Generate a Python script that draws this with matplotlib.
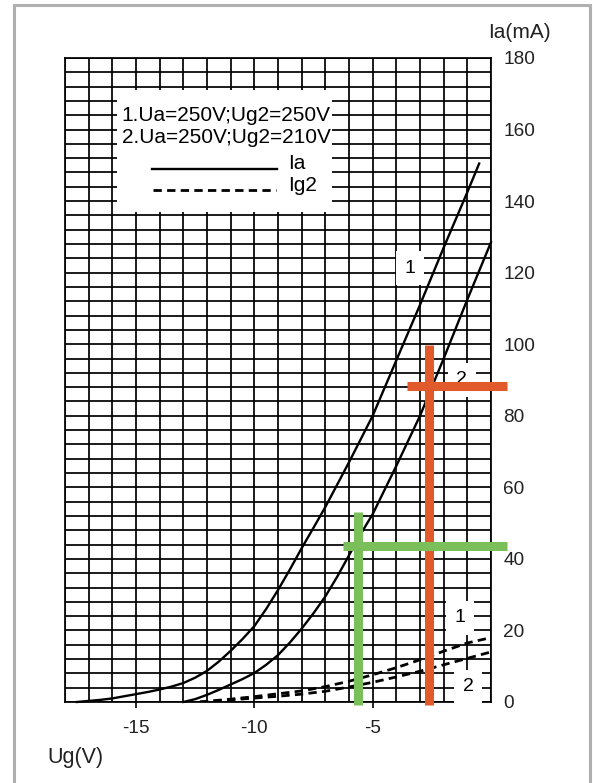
import matplotlib
matplotlib.use("Agg")
import matplotlib.pyplot as plt
from matplotlib.patches import Rectangle

plt.rcParams['font.family'] = ['Liberation Sans', 'DejaVu Sans']
plt.rcParams['axes.unicode_minus'] = False

# ---- data ----
ug_ia1 = [-17.5, -17, -16.5, -16, -15.5, -15, -14.5, -14, -13.5, -13, -12.5, -12, -11.5, -11,
          -10.5, -10, -9.5, -9, -8.5, -8, -7.5, -7, -6, -5, -4, -3, -2, -1, -0.5]
ia1 = [0, 0.3, 0.6, 1.0, 1.6, 2.2, 2.8, 3.5, 4.3, 5.3, 6.8, 8.7, 11.3, 14.3,
       17.6, 21.2, 26, 31.3, 37, 43, 48.7, 54.5, 67, 80, 95.5, 111, 127, 142.5, 150.5]

ug_ia2 = [-13, -12.5, -12, -11.5, -11, -10.5, -10, -9.5, -9, -8.5, -8, -7.5, -7, -6.5, -6,
          -5.5, -5, -4, -3, -2, -1, 0]
ia2 = [0, 0.8, 2.0, 3.4, 4.9, 6.4, 8.1, 10.4, 13.1, 16.6, 20.5, 24.8, 29.5, 35, 41,
       47, 52.5, 66, 80, 96, 112.5, 128.5]

ug_ig2 = [-12.3, -11, -10, -9, -8, -7, -6, -5, -4, -3, -2, -1, 0]
ig2_1 = [0, 0.8, 1.5, 2.3, 3.1, 4.3, 5.8, 7.6, 9.6, 11.8, 14.2, 16.5, 18]
ig2_2 = [0, 0.6, 1.1, 1.6, 2.2, 3.0, 4.2, 5.5, 7.0, 8.6, 10.4, 12.2, 14]

xticks = [-15, -10, -5]
xtick_labels = ["-15", "-10", "-5"]
yticks = [0, 20, 40, 60, 80, 100, 120, 140, 160, 180]
ytick_labels = [str(v) for v in yticks]

legend_lines = ["1.Ua=250V;Ug2=250V", "2.Ua=250V;Ug2=210V"]

# red marker
red_x, red_y = -2.62, 88.2
red_vspan = (-0.8, 99.8)
red_hspan = (-3.57, 0.66)
# green marker
green_x, green_y = -5.62, 43.5
green_vspan = (-0.8, 53.2)
green_hspan = (-6.24, 0.69)

# ---- figure ----
fig = plt.figure(figsize=(5.93, 7.83), dpi=100)
ax = fig.add_axes([65/593, 1-702/783, 426/593, 644/783])
ax.set_xlim(-18, 0)
ax.set_ylim(0, 180)

# grid lines (1 V x 4 mA)
for gx in range(-18, 1):
    ax.axvline(gx, color='black', lw=1.25, zorder=0.5)
for gy in range(0, 181, 4):
    ax.axhline(gy, color='black', lw=1.25, zorder=0.5)
for s in ax.spines.values():
    s.set_linewidth(1.25)
    s.set_color('black')

ax.set_xticks(xticks)
ax.set_xticklabels(xtick_labels, fontsize=13.7, color='#222222')
ax.yaxis.tick_right()
ax.set_yticks(yticks)
ax.set_yticklabels(ytick_labels, fontsize=13.7, color='#222222')
ax.tick_params(axis='x', which='major', length=4, width=1.2, direction='out', pad=9)
ax.tick_params(axis='y', which='major', length=0, pad=9)

# legend white box
ax.add_patch(Rectangle((-15.8, 137), 9.1, 34, facecolor='white', edgecolor='none', zorder=1))
ax.text(-15.6, 164, legend_lines[0], fontsize=15, va='center', ha='left', zorder=3)
ax.text(-15.6, 157.8, legend_lines[1], fontsize=15, va='center', ha='left', zorder=3)
ax.plot([-14.34, -9.06], [149.0, 149.0], color='black', lw=1.7, zorder=3)
ax.text(-8.58, 150.4, "Ia", fontsize=15, va='center', ha='left', zorder=3)
ax.plot([-14.3, -9.1], [143.1, 143.1], color='black', lw=2.0, dashes=(3.0, 1.9), zorder=3)
ax.text(-8.58, 144.5, "Ig2", fontsize=15, va='center', ha='left', zorder=3)

# curves
ax.plot(ug_ia1, ia1, color='black', lw=1.7, zorder=2, clip_on=False)
ax.plot(ug_ia2, ia2, color='black', lw=1.7, zorder=2, clip_on=False)
ax.plot(ug_ig2, ig2_1, color='black', lw=2.0, dashes=(3.0, 1.9), zorder=2)
ax.plot(ug_ig2, ig2_2, color='black', lw=2.0, dashes=(3.0, 1.9), zorder=2)

# curve labels with white boxes
box = dict(boxstyle='square,pad=0.45', facecolor='white', edgecolor='none')
ax.text(-3.42, 121.3, "1", fontsize=14, ha='center', va='center', bbox=box, zorder=3)
ax.text(-1.23, 90, "2", fontsize=14, ha='center', va='center', bbox=box, zorder=3)
ax.text(-1.31, 23.5, "1", fontsize=14, ha='center', va='center', bbox=box, zorder=3)
ax.text(-0.97, 4.2, "2", fontsize=14, ha='center', va='center', bbox=box, zorder=3)

# coloured markers
red = '#E05A2B'
green = '#7BBF5A'
ax.plot([red_x, red_x], list(red_vspan), color=red, lw=6.5, solid_capstyle='butt', zorder=5, clip_on=False)
ax.plot(list(red_hspan), [red_y, red_y], color=red, lw=6.5, solid_capstyle='butt', zorder=5, clip_on=False)
ax.plot([green_x, green_x], list(green_vspan), color=green, lw=6.5, solid_capstyle='butt', zorder=5, clip_on=False)
ax.plot(list(green_hspan), [green_y, green_y], color=green, lw=6.5, solid_capstyle='butt', zorder=5, clip_on=False)

# axis titles
fig.text(519/593, 1-33/783, "Ia(mA)", fontsize=15, ha='center', va='center', color='#222222')
fig.text(47/593, 1-757/783, "Ug(V)", fontsize=15.5, ha='left', va='center', color='#222222')

# outer frame
fig.patches.append(Rectangle((13.5/593, -0.02), (589.5-13.5)/593, 0.02 + (783-5.5)/783,
                             transform=fig.transFigure, facecolor='none',
                             edgecolor='#b0b0b0', lw=2.2))

fig.savefig("out.png", dpi=100)
